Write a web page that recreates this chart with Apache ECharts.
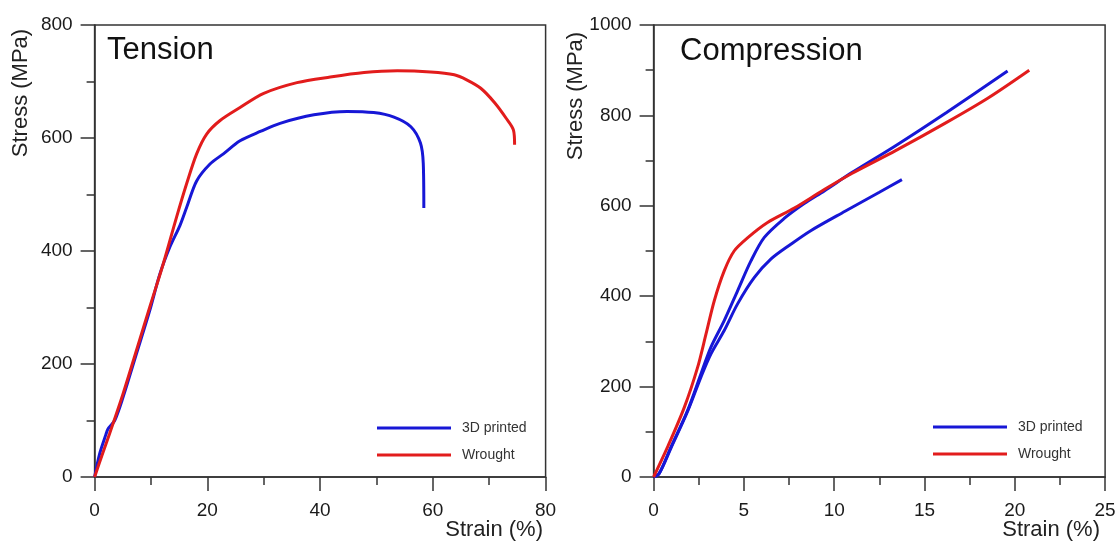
<!DOCTYPE html>
<html>
<head>
<meta charset="utf-8">
<script src="https://cdn.jsdelivr.net/npm/echarts@6/dist/echarts.min.js"></script>
<style>
html,body{margin:0;padding:0;background:#fff;}
#c{width:1119px;height:544px;}
</style>
</head>
<body>
<div id="c"></div>
<script>
// Tension – 3D printed
const tenPrintedStrain = [0,0.89,2.0,2.37,3.56,5.04,7.42,9.79,11.57,13.35,15.13,16.32,18.1,20.47,22.85,25.8,29.5,32.9,38.9,44.8,49.5,53.1,56.1,57.8,58.3,58.4];
const tenPrintedStress = [0,41,75,85,100,141,218,295,359,407,445,477,524,554,572,595,612,626,641,647,645,637,620,591,555,476];
// Tension – Wrought
const tenWroughtStrain = [0,1.3,2.67,5.04,7.42,9.79,12.17,14.54,16.32,18.1,19.88,22.26,25.8,30.0,35.9,41.8,47.8,53.7,59.6,63.8,66.0,68.5,71.0,73.0,74.3,74.5];
const tenWroughtStress = [0,38,77,147,224,301,377,460,519,572,607,631,654,679,698,708,716,719,717,712,703,688,662,635,614,588];
// Compression – 3D printed (specimen A)
const compPrintedAStrain = [0,0.3,0.96,1.88,2.62,3.17,3.91,4.65,5.39,6.13,7.23,8.34,9.45,11.0,13.4,16.2,19.6];
const compPrintedAStress = [0,7,66,147,228,287,346,412,478,530,572,605,633,674,733,806,898];
// Compression – 3D printed (specimen B)
const compPrintedBStrain = [0,0.3,0.96,1.88,2.62,3.17,3.91,4.65,5.57,6.49,7.6,8.7,10.6,12.5,13.75];
const compPrintedBStress = [0,7,64,145,221,272,324,383,441,482,515,545,588,630,658];
// Compression – Wrought
const compWroughtStrain = [0,0.77,1.7,2.44,2.9,3.36,3.91,4.46,5.2,6.31,7.79,9.45,11.0,13.4,16.2,18.5,20.8];
const compWroughtStress = [0,66,154,243,316,390,456,500,529,563,595,636,672,722,784,838,900];
// Axis ticks / labels
const tensionXTicks = {min:0, max:80, interval:20};
const tensionYTicks = {min:0, max:800, interval:200};
const compXTicks = {min:0, max:25, interval:5};
const compYTicks = {min:0, max:1000, interval:200};
const legendNames = ['3D printed','Wrought'];
const panelTitles = ['Tension','Compression'];
const xName = 'Strain (%)';
const yName = 'Stress (MPa)';

const zip = (a,b) => a.map((v,i)=>[v,b[i]]);
const BLUE = '#1717d6', RED = '#e21c1c';
const FONT = '"Liberation Sans", Arial, Helvetica, sans-serif';
const AX = '#333';

function xAxis(idx, t){
  return {type:'value', gridIndex:idx, min:t.min, max:t.max, interval:t.interval,
    axisLine:{show:true, onZero:false, lineStyle:{color:AX, width:1.5}},
    axisTick:{show:true, inside:false, length:14, lineStyle:{color:AX, width:1.5}},
    minorTick:{show:true, splitNumber:2, length:8, lineStyle:{color:AX, width:1.5}},
    splitLine:{show:false},
    axisLabel:{fontSize:19, color:'#1a1a1a', fontFamily:FONT, margin:24, formatter:v=>String(v)}};
}
function yAxis(idx, t){
  return {type:'value', gridIndex:idx, min:t.min, max:t.max, interval:t.interval,
    axisLine:{show:true, onZero:false, lineStyle:{color:AX, width:1.5}},
    axisTick:{show:true, inside:false, length:14, lineStyle:{color:AX, width:1.5}},
    minorTick:{show:true, splitNumber:2, length:8, lineStyle:{color:AX, width:1.5}},
    splitLine:{show:false},
    axisLabel:{fontSize:19, color:'#1a1a1a', fontFamily:FONT, margin:22, formatter:v=>String(v)}};
}
function line(name, data, idx, color){
  return {type:'line', name, data, xAxisIndex:idx, yAxisIndex:idx, showSymbol:false,
    symbol:'none', smooth:0.3, lineStyle:{color, width:3}, itemStyle:{color}, z:3};
}
function legend(left, top){
  return {data:legendNames, orient:'vertical', left, top, padding:0, itemGap:13,
    itemWidth:74, itemHeight:3, icon:'rect',
    textStyle:{fontSize:14, color:'#333', fontFamily:FONT, lineHeight:14, padding:[0,0,0,6]}};
}
function txt(x, y, text, size, opts){
  return {type:'text', x, y, style:Object.assign({text, fontSize:size, fontFamily:FONT, fill:'#111'}, opts||{})};
}

const chart = echarts.init(document.getElementById('c'), null, {renderer:'canvas'});
chart.setOption({
  animation:false,
  backgroundColor:'#fff',
  grid:[
    {left:94.6, top:25, width:451, height:452, show:true, borderColor:AX, borderWidth:1.5, backgroundColor:'transparent'},
    {left:653.6, top:25, width:451.5, height:452, show:true, borderColor:AX, borderWidth:1.5, backgroundColor:'transparent'}
  ],
  xAxis:[xAxis(0, tensionXTicks), xAxis(1, compXTicks)],
  yAxis:[yAxis(0, tensionYTicks), yAxis(1, compYTicks)],
  legend:[legend(377, 421), legend(933, 420)],
  series:[
    line('3D printed', zip(tenPrintedStrain, tenPrintedStress), 0, BLUE),
    line('Wrought', zip(tenWroughtStrain, tenWroughtStress), 0, RED),
    line('3D printed', zip(compPrintedAStrain, compPrintedAStress), 1, BLUE),
    line('3D printed', zip(compPrintedBStrain, compPrintedBStress), 1, BLUE),
    line('Wrought', zip(compWroughtStrain, compWroughtStress), 1, RED)
  ],
  graphic:[
    txt(107, 50, panelTitles[0], 31, {verticalAlign:'middle', align:'left'}),
    txt(680, 51, panelTitles[1], 31, {verticalAlign:'middle', align:'left'}),
    {type:'text', x:21, y:93, rotation:Math.PI/2, style:{text:yName, fontSize:22, fontFamily:FONT, fill:'#222', align:'center', verticalAlign:'middle'}},
    {type:'text', x:576, y:96, rotation:Math.PI/2, style:{text:yName, fontSize:22, fontFamily:FONT, fill:'#222', align:'center', verticalAlign:'middle'}},
    txt(543, 530, xName, 22, {verticalAlign:'middle', align:'right', fill:'#222'}),
    txt(1100, 530, xName, 22, {verticalAlign:'middle', align:'right', fill:'#222'})
  ]
});
</script>
</body>
</html>
